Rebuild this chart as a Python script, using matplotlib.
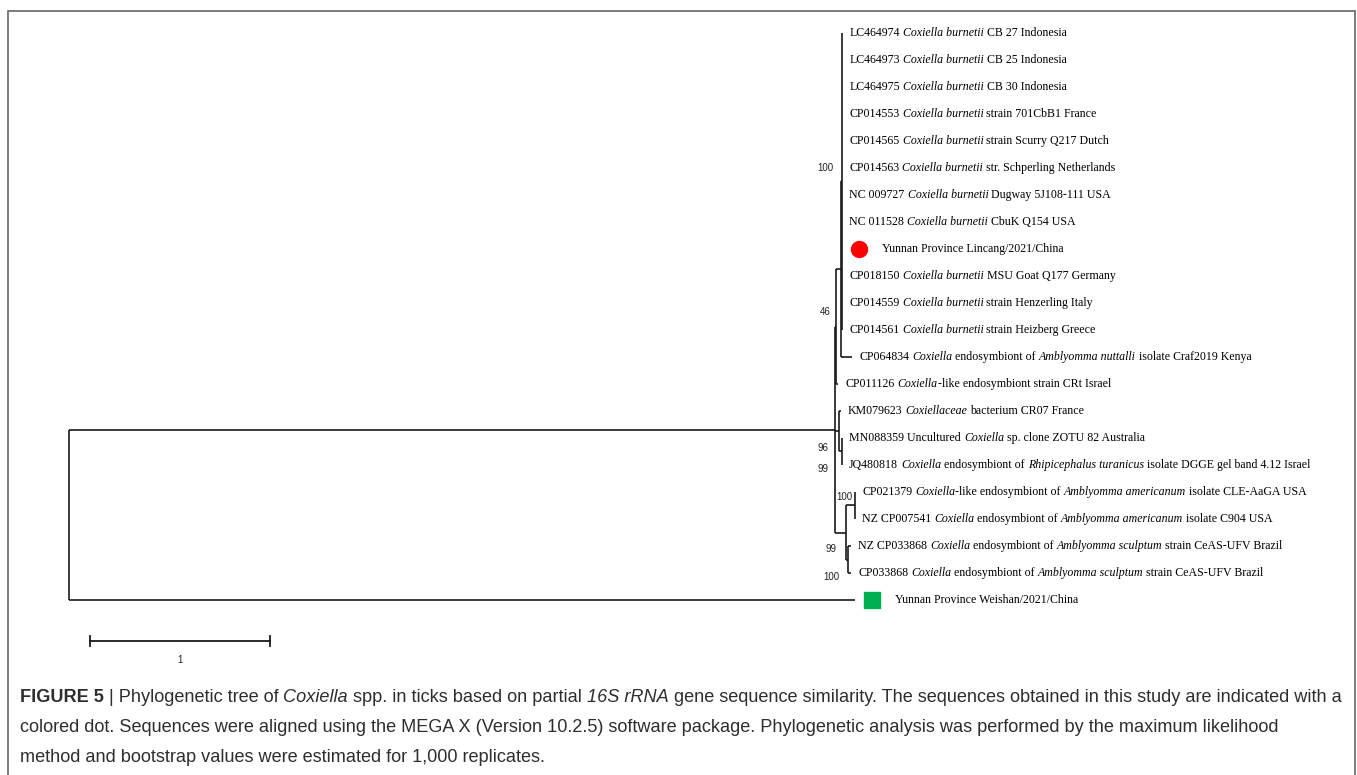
import matplotlib
matplotlib.use("Agg")
import matplotlib.pyplot as plt
from matplotlib.font_manager import FontProperties
from matplotlib.patches import Rectangle
from matplotlib.transforms import IdentityTransform

# ---- data -------------------------------------------------------------
# leaf labels, top to bottom; *...* marks italic text
leaf_labels = [
    "LC464974 *Coxiella burnetii* CB 27 Indonesia",
    "LC464973 *Coxiella burnetii* CB 25 Indonesia",
    "LC464975 *Coxiella burnetii* CB 30 Indonesia",
    "CP014553 *Coxiella burnetii* strain 701CbB1 France",
    "CP014565 *Coxiella burnetii* strain Scurry Q217 Dutch",
    "CP014563 *Coxiella burnetii* str. Schperling Netherlands",
    "NC 009727 *Coxiella burnetii* Dugway 5J108-111 USA",
    "NC 011528 *Coxiella burnetii* CbuK Q154 USA",
    "Yunnan Province Lincang/2021/China",
    "CP018150 *Coxiella burnetii* MSU Goat Q177 Germany",
    "CP014559 *Coxiella burnetii* strain Henzerling Italy",
    "CP014561 *Coxiella burnetii* strain Heizberg Greece",
    "CP064834 *Coxiella* endosymbiont of *Amblyomma nuttalli* isolate Craf2019 Kenya",
    "CP011126 *Coxiella*-like endosymbiont strain CRt Israel",
    "KM079623 *Coxiellaceae* bacterium CR07 France",
    "MN088359 Uncultured *Coxiella* sp. clone ZOTU 82 Australia",
    "JQ480818 *Coxiella* endosymbiont of *Rhipicephalus turanicus* isolate DGGE gel band 4.12 Israel",
    "CP021379 *Coxiella*-like endosymbiont of *Amblyomma americanum* isolate CLE-AaGA USA",
    "NZ CP007541 *Coxiella* endosymbiont of *Amblyomma americanum* isolate C904 USA",
    "NZ CP033868 *Coxiella* endosymbiont of *Amblyomma sculptum* strain CeAS-UFV Brazil",
    "CP033868 *Coxiella* endosymbiont of *Amblyomma sculptum* strain CeAS-UFV Brazil",
    "Yunnan Province Weishan/2021/China",
]

# sequences from this study: leaf index -> (marker, colour)
study_leaves = {8: ("o", "#ff0000"), 21: ("s", "#00b050")}

# tree: internal node = (name, branch length, [children]); leaf = (index, branch length)
burnetii = [(i, 0.0) for i in range(12)]
tree = ("root", 0.0, [
    ("A", 4.256, [
        ("n46", 0.006, [
            ("B", 0.028, [
                ("cb", 0.006, burnetii),
                (12, 0.061),
            ]),
            (13, 0.011),
        ]),
        ("KM", 0.022, [
            (14, 0.011),
            ("MJ", 0.017, [(15, 0.0), (16, 0.0)]),
        ]),
        ("Amb", 0.061, [
            ("am", 0.050, [(17, 0.0), (18, 0.0)]),
            ("sc", 0.011, [(19, 0.017), (20, 0.017)]),
        ]),
    ]),
    (21, 4.367),
])

# bootstrap values per node
bootstrap = {"cb": [100], "n46": [46], "KM": [99], "MJ": [96], "am": [100], "sc": [99, 100]}
scale_length = 1

caption = [
    "#FIGURE 5# | Phylogenetic tree of *Coxiella* spp. in ticks based on partial *16S rRNA* gene sequence "
    "similarity. The sequences obtained in this study are indicated with a",
    "colored dot. Sequences were aligned using the MEGA X (Version 10.2.5) software package. "
    "Phylogenetic analysis was performed by the maximum likelihood",
    "method and bootstrap values were estimated for 1,000 replicates.",
]

# ---- figure -----------------------------------------------------------
W, H, DPI = 1357, 775, 100
PX = 180.0   # pixels per substitution unit
X0 = 69      # root x (px)
ROW = 27.0   # px per leaf row
Y0 = 33      # first row (px from top)
LC = "#1a1a1a"
serif = "Liberation Serif"
sans = "Liberation Sans"

fig = plt.figure(figsize=(W / DPI, H / DPI), dpi=DPI)
fig.patch.set_facecolor("white")
ax = fig.add_axes([0, 0, 1, 1])
ax.set_axis_off()
ax.set_xlim(-X0 / PX, (W - X0) / PX)
ax.set_ylim((H - Y0) / ROW, -Y0 / ROW)
renderer = fig.canvas.get_renderer()


def text_width(s, prop):
    w1 = renderer.get_text_width_height_descent("x" + s + "x", prop, False)[0]
    w0 = renderer.get_text_width_height_descent("xx", prop, False)[0]
    return w1 - w0


def split_runs(s):
    runs = []
    style, bold, buf = "normal", "normal", ""
    for ch in s:
        if ch in "*#":
            if buf:
                runs.append((buf, style, bold))
            buf = ""
            if ch == "*":
                style = "italic" if style == "normal" else "normal"
            else:
                bold = "bold" if bold == "normal" else "normal"
        else:
            buf += ch
    if buf:
        runs.append((buf, style, bold))
    return runs


def draw_runs(xpx, ypx, s, family, size, color, draw=True):
    # one text per style run; spaces at run edges are added as gaps
    x = xpx
    reg = FontProperties(family=family, size=size)
    sp = text_width(" ", reg)
    for t, st, wt in split_runs(s):
        prop = FontProperties(family=family, size=size, style=st, weight=wt)
        core = t.strip(" ")
        if t.startswith(" "):
            x += sp
        if core:
            if draw:
                fig.text(x, H - ypx, core, fontproperties=prop, color=color,
                         transform=IdentityTransform(), va="center", ha="left")
            x += text_width(core, prop)
        if t.endswith(" ") and core:
            x += sp
    return x - xpx


tips = {}
nodes = {}


def layout(node, x):
    if isinstance(node[0], int):
        idx, bl = node
        tips[idx] = x + bl
        if bl > 0:
            ax.plot([x, x + bl], [idx, idx], color=LC, lw=1.2, solid_capstyle="butt")
        return idx
    name, bl, kids = node
    x = x + bl
    ys = []
    for k in kids:
        ky = layout(k, x)
        ys.append(ky)
        if not isinstance(k[0], int):
            ax.plot([x, x + k[1]], [ky, ky], color=LC, lw=1.2, solid_capstyle="butt")
    ax.plot([x, x], [min(ys), max(ys)], color=LC, lw=1.2, solid_capstyle="butt")
    y = (min(ys) + max(ys)) / 2
    nodes[name] = (x, y)
    return y


layout(tree, 0.0)

# leaf labels
gap = 7 / PX
for i, lab in enumerate(leaf_labels):
    x = tips[i] + gap
    if i in study_leaves:
        m, c = study_leaves[i]
        ax.plot(x + 10 / PX, i, marker=m, ms=11.5, color=c, mec=c, ls="none")
        x += 33 / PX
    xp, yp = ax.transData.transform((x, i))
    draw_runs(xp, H - yp, lab, serif, 8.6, "black")

# bootstrap labels: offsets (px) from node, right aligned
boot_offsets = {"cb": [(-9, -13)], "n46": [(-5, -15)], "KM": [(-11, 38)], "MJ": [(-14, -3)],
                "am": [(-3, -9)], "sc": [(-12, -10), (-9, 17)]}
for name, vals in bootstrap.items():
    nx, ny = nodes[name]
    for v, (dx, dy) in zip(vals, boot_offsets[name]):
        ax.text(nx + dx / PX, ny + dy / ROW, str(v), ha="right", va="center",
                fontsize=7, family=sans, color="#222222")

# scale bar
sx = 21 / PX
sy = (641 - Y0) / ROW
ax.plot([sx, sx + scale_length], [sy, sy], color=LC, lw=1.3)
for xe in (sx, sx + scale_length):
    ax.plot([xe, xe], [sy - 5 / ROW, sy + 5 / ROW], color=LC, lw=1.3)
ax.text(sx + scale_length / 2, sy + 19 / ROW, str(scale_length), ha="center", va="center",
        fontsize=7, family=sans, color="#222222")

# caption, first line fitted to the width of the original
w_first = draw_runs(0, 0, caption[0], sans, 10, "white", draw=False)
cap_size = 10 * 1325 / w_first
for k, line in enumerate(caption):
    draw_runs(20, 698 + 29.5 * k, line, sans, cap_size, "#2e2e2e")

# frame
fig.add_artist(Rectangle((8 / W, -0.02), (1355 - 8) / W, (H - 11) / H + 0.02,
                         transform=fig.transFigure, fill=False, ec="#666666", lw=1.2))

fig.savefig("out.png", dpi=DPI)
